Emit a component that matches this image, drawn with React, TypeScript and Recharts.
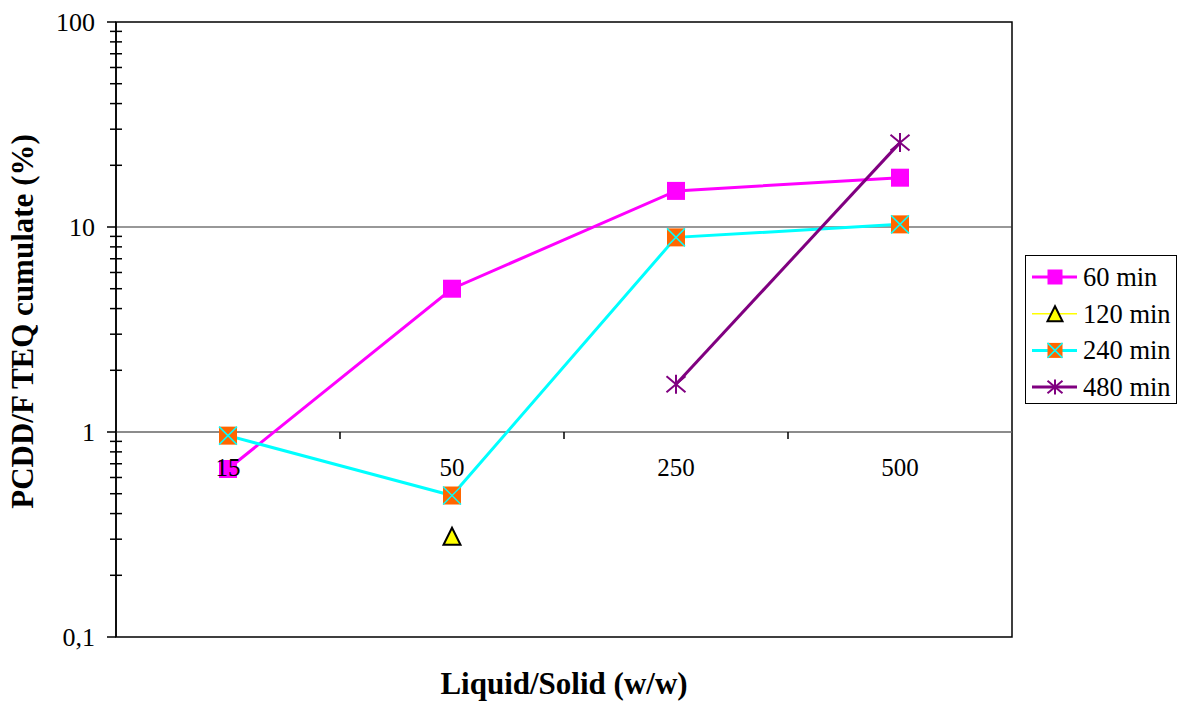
import React from "react";
import {
  LineChart,
  Line,
  XAxis,
  YAxis,
  ReferenceLine,
  ReferenceArea,
  ReferenceDot,
} from "recharts";

const categories = ["15", "50", "250", "500"];
const min60 = [0.66, 5.0, 15.0, 17.4];
const min120 = [null, 0.31, null, null];
const min240 = [0.96, 0.49, 8.9, 10.3];
const min480 = [null, null, 1.71, 25.8];
const yTicks = [
  0.1, 0.2, 0.3, 0.4, 0.5, 0.6, 0.7, 0.8, 0.9,
  1, 2, 3, 4, 5, 6, 7, 8, 9,
  10, 20, 30, 40, 50, 60, 70, 80, 90, 100,
];

const data = categories.map((c, i) => ({
  ls: c,
  m60: min60[i],
  m120: min120[i],
  m240: min240[i],
  m480: min480[i],
}));

const FONT = "'Liberation Serif', 'Times New Roman', serif";
const W = 1180;
const H = 702;
const PLOT_LEFT = 116;
const PLOT_RIGHT = 1012;
const BAND = (PLOT_RIGHT - PLOT_LEFT) / categories.length;

const MAGENTA = "#ff00ff";
const YELLOW = "#ffff00";
const CYAN = "#00ffff";
const ORANGE = "#ff6600";
const PURPLE = "#800080";

const isDecade = (v: number) =>
  Math.abs(Math.log10(v) - Math.round(Math.log10(v))) < 1e-9;

const SquareMark = ({ cx, cy, s = 18 }: any) => (
  <rect x={cx - s / 2} y={cy - s / 2} width={s} height={s} fill={MAGENTA} />
);
const TriangleMark = ({ cx, cy, s = 17 }: any) => (
  <polygon
    points={`${cx},${cy - s / 2} ${cx + s / 2},${cy + s / 2} ${cx - s / 2},${cy + s / 2}`}
    fill={YELLOW}
    stroke="#000"
    strokeWidth={2}
  />
);
const CrossSquareMark = ({ cx, cy, s = 18 }: any) => (
  <g>
    <rect x={cx - s / 2} y={cy - s / 2} width={s} height={s} fill={ORANGE} />
    <line x1={cx - s / 2} y1={cy - s / 2} x2={cx + s / 2} y2={cy + s / 2} stroke={CYAN} strokeWidth={1.5} />
    <line x1={cx + s / 2} y1={cy - s / 2} x2={cx - s / 2} y2={cy + s / 2} stroke={CYAN} strokeWidth={1.5} />
  </g>
);
const StarMark = ({ cx, cy, s = 19 }: any) => (
  <g stroke={PURPLE} strokeWidth={2}>
    <line x1={cx - s / 2} y1={cy - s / 2.4} x2={cx + s / 2} y2={cy + s / 2.4} />
    <line x1={cx + s / 2} y1={cy - s / 2.4} x2={cx - s / 2} y2={cy + s / 2.4} />
    <line x1={cx} y1={cy - s / 2} x2={cx} y2={cy + s / 2} />
  </g>
);

const dotFor = (Mark: any) => (p: any) => {
  if (p.cx == null || p.cy == null || p.value == null || Number.isNaN(p.cy)) {
    return <g key={`d-${p.index}`} />;
  }
  return (
    <g key={`d-${p.index}`}>
      <Mark cx={p.cx} cy={p.cy} />
    </g>
  );
};

const YTick = ({ x, y, payload }: any) => {
  const v = payload.value;
  const major = isDecade(v);
  return (
    <g>
      {major ? (
        <line x1={x - 9} y1={y} x2={x} y2={y} stroke="#000" strokeWidth={1.5} />
      ) : (
        <line x1={x - 6} y1={y} x2={x + 6} y2={y} stroke="#000" strokeWidth={1.5} />
      )}
      {major && (
        <text
          x={x - 21}
          y={y}
          textAnchor="end"
          dominantBaseline="central"
          fontFamily={FONT}
          fontSize={26}
          fill="#000"
        >
          {String(v).replace(".", ",")}
        </text>
      )}
    </g>
  );
};

const series = [
  { name: "60 min", color: MAGENTA, Mark: SquareMark, width: 3 },
  { name: "120 min", color: YELLOW, Mark: TriangleMark, width: 1.5 },
  { name: "240 min", color: CYAN, Mark: CrossSquareMark, width: 3 },
  { name: "480 min", color: PURPLE, Mark: StarMark, width: 3 },
];

const LegendBox = () => (
  <svg
    width={152}
    height={149}
    style={{ position: "absolute", left: 1025, top: 255 }}
  >
    <rect x={0.5} y={0.5} width={151} height={148} fill="#fff" stroke="#000" />
    {series.map((s, i) => {
      const cy = 22 + i * 36.7;
      return (
        <g key={s.name}>
          <line x1={7} y1={cy} x2={52} y2={cy} stroke={s.color} strokeWidth={s.width} />
          <s.Mark cx={30} cy={cy} s={15} />
          <text
            x={58}
            y={cy}
            dominantBaseline="central"
            fontFamily={FONT}
            fontSize={26.5}
            fill="#000"
          >
            {s.name}
          </text>
        </g>
      );
    })}
  </svg>
);

export default function App() {
  return (
    <div
      style={{
        position: "absolute",
        left: 0,
        top: 0,
        width: W,
        height: H,
        background: "#fff",
        fontFamily: FONT,
      }}
    >
      <LineChart
        width={W}
        height={H}
        data={data}
        margin={{ top: 22, right: W - PLOT_RIGHT, bottom: 0, left: 0 }}
      >
        <XAxis
          dataKey="ls"
          scale="band"
          tick={false}
          tickLine={false}
          axisLine={false}
          height={65}
          label={{
            value: "Liquid/Solid (w/w)",
            position: "insideBottom",
            offset: 8,
            fontFamily: FONT,
            fontSize: 31,
            fontWeight: "bold",
            fill: "#000",
          }}
        />
        <YAxis
          scale="log"
          domain={[0.1, 100]}
          ticks={yTicks}
          interval={0}
          allowDataOverflow
          width={PLOT_LEFT}
          tickSize={0}
          tickMargin={0}
          tickLine={false}
          axisLine={{ stroke: "#000", strokeWidth: 1.5 }}
          tick={<YTick />}
          label={{
            value: "PCDD/F TEQ cumulate (%)",
            angle: -90,
            position: "insideLeft",
            offset: 22,
            dy: -8,
            fontFamily: FONT,
            fontSize: 31,
            fontWeight: "bold",
            fill: "#000",
            style: { textAnchor: "middle" },
          }}
        />
        <ReferenceArea y1={0.1} y2={100} fill="none" stroke="#000" strokeWidth={1.5} />
        <ReferenceLine y={10} stroke="#333" strokeWidth={1.2} />
        <ReferenceLine y={1} stroke="#666" strokeWidth={1.5} />
        <Line
          dataKey="m60"
          name="60 min"
          stroke={MAGENTA}
          strokeWidth={3}
          dot={dotFor(SquareMark)}
          activeDot={false}
          isAnimationActive={false}
        />
        <Line
          dataKey="m120"
          name="120 min"
          stroke={YELLOW}
          strokeWidth={1.5}
          dot={dotFor(TriangleMark)}
          activeDot={false}
          isAnimationActive={false}
        />
        <Line
          dataKey="m240"
          name="240 min"
          stroke={CYAN}
          strokeWidth={3}
          dot={dotFor(CrossSquareMark)}
          activeDot={false}
          isAnimationActive={false}
        />
        <Line
          dataKey="m480"
          name="480 min"
          stroke={PURPLE}
          strokeWidth={3}
          dot={dotFor(StarMark)}
          activeDot={false}
          isAnimationActive={false}
        />
        {categories.map((c, i) => (
          <ReferenceDot
            key={c}
            x={c}
            y={1}
            r={0}
            shape={(p: any) => (
              <g>
                {i > 0 && (
                  <line
                    x1={p.cx - BAND / 2}
                    y1={p.cy}
                    x2={p.cx - BAND / 2}
                    y2={p.cy + 7}
                    stroke="#000"
                    strokeWidth={1.5}
                  />
                )}
                <text
                  x={p.cx}
                  y={p.cy + 35}
                  textAnchor="middle"
                  dominantBaseline="central"
                  fontFamily={FONT}
                  fontSize={25}
                  fill="#000"
                >
                  {c}
                </text>
              </g>
            )}
          />
        ))}
      </LineChart>
      <LegendBox />
    </div>
  );
}
